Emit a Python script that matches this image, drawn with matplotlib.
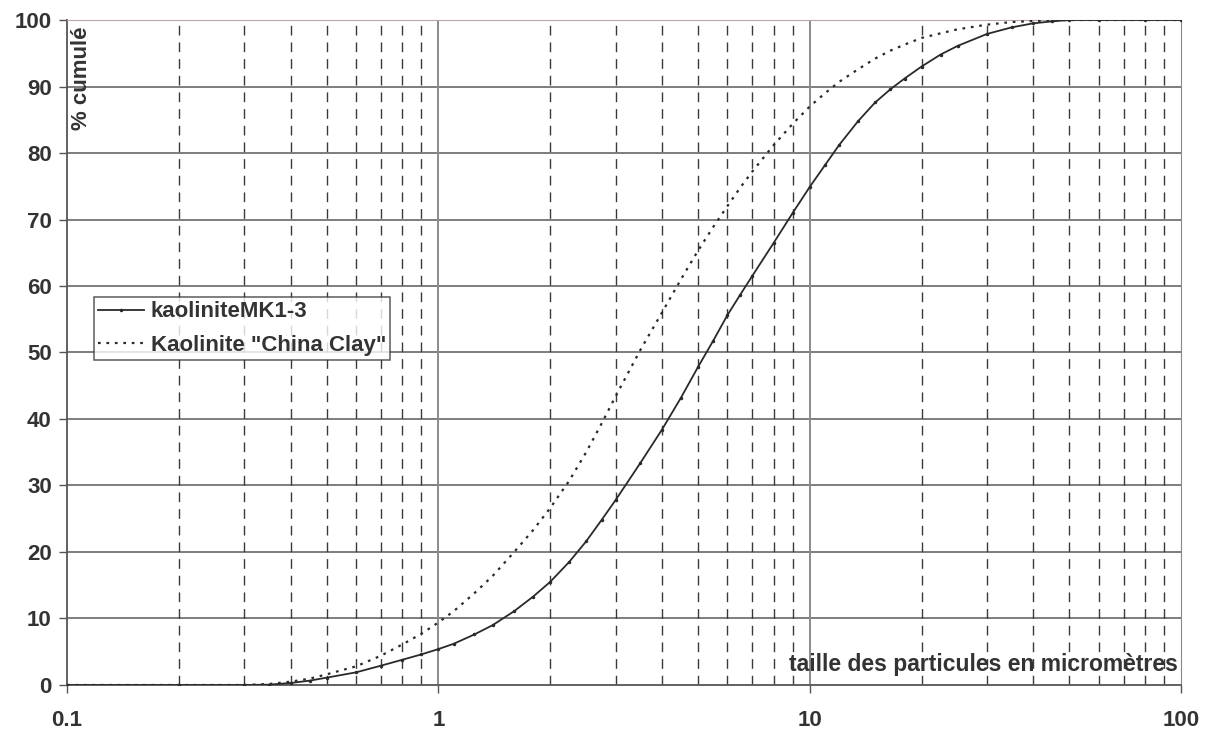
import matplotlib
matplotlib.use("Agg")
import matplotlib.pyplot as plt
from matplotlib.ticker import FixedLocator, NullFormatter

plt.rcParams['font.family'] = ['Liberation Sans', 'DejaVu Sans']
plt.rcParams['font.weight'] = 'bold'

# particle size (micrometres)
taille = [0.1, 0.2, 0.3, 0.35, 0.4, 0.45, 0.5, 0.6, 0.7, 0.8, 0.9, 1, 1.1, 1.25,
          1.4, 1.6, 1.8, 2, 2.25, 2.5, 2.75, 3, 3.5, 4, 4.5, 5, 5.5, 6, 6.5, 7,
          8, 9, 10, 11, 12, 13.5, 15, 16.5, 18, 20, 22.5, 25, 30, 35, 40, 45,
          50, 60, 80, 100]
# cumulative %
mk1_3 = [0, 0, 0, 0.05, 0.3, 0.65, 1.1, 1.9, 2.9, 3.8, 4.6, 5.4, 6.2, 7.6,
         9.0, 11.1, 13.3, 15.5, 18.5, 21.6, 24.8, 27.8, 33.4, 38.4, 43.2, 47.8,
         51.8, 55.6, 58.7, 61.5, 66.5, 71.0, 74.9, 78.2, 81.2, 84.8, 87.6, 89.6,
         91.2, 93.0, 94.8, 96.1, 97.9, 98.9, 99.5, 99.8, 100, 100, 100, 100]
china_clay = [0, 0, 0, 0.15, 0.5, 0.95, 1.6, 2.8, 4.4, 6.1, 7.7, 9.4, 11.1, 13.8,
              16.4, 20.0, 23.3, 26.6, 30.7, 35.0, 39.3, 43.4, 50.4, 56.0, 61.0,
              65.3, 68.9, 72.0, 74.8, 77.2, 81.2, 84.4, 87.0, 89.0, 90.7, 92.6,
              94.2, 95.4, 96.3, 97.3, 98.0, 98.6, 99.3, 99.7, 99.85, 99.95, 100,
              100, 100, 100]

y_ticks = list(range(0, 101, 10))
x_major = [0.1, 1, 10, 100]
x_minor = [m * d for d in (0.1, 1, 10) for m in range(2, 10)]

txt = "#333333"
fig = plt.figure(figsize=(12.1, 7.33), dpi=100)
ax = fig.add_axes([0.0554, 0.0655, 0.9207, 0.9072])
ax.set_xscale("log")
ax.set_xlim(0.1, 100)
ax.set_ylim(0, 100)

# grid
for y in y_ticks[1:]:
    ax.axhline(y, color="#5a5a5a", lw=1.1, zorder=1)
for x in x_minor:
    ax.axvline(x, color="#3a3a3a", lw=1.0, ls=(0, (7, 5)), zorder=1)
for x in x_major[1:3]:
    ax.axvline(x, color="#8c8c8c", lw=1.4, zorder=1)

ax.plot(taille, mk1_3, color="#2a2a2a", lw=1.3, marker="o", markersize=1.5,
        label="kaoliniteMK1-3", zorder=3)
ax.plot(taille, china_clay, color="#2a2a2a", lw=1.6, ls=(0, (1.2, 2.6)),
        label='Kaolinite "China Clay"', zorder=3)

ax.xaxis.set_major_locator(FixedLocator(x_major))
ax.xaxis.set_minor_locator(FixedLocator(x_minor))
ax.xaxis.set_minor_formatter(NullFormatter())
ax.set_xticklabels(["0.1", "1", "10", "100"])
ax.set_yticks(y_ticks)
ax.tick_params(axis="x", which="major", length=6, width=1, color="#555555",
               labelsize=16, labelcolor=txt, pad=12)
ax.tick_params(axis="x", which="minor", length=0)
ax.tick_params(axis="y", length=6, width=1, color="#555555",
               labelsize=16, labelcolor=txt, pad=5)

for s in ("left", "bottom"):
    ax.spines[s].set_color("#555555")
    ax.spines[s].set_linewidth(1.3)
ax.spines["right"].set_color("#888888")
ax.spines["top"].set_color("#b8a8a8")

ax.text(0.004, 0.99, "% cumulé", transform=ax.transAxes, rotation=90,
        ha="left", va="top", fontsize=16, color=txt, fontweight="bold")
ax.text(0.997, 0.014, "taille des particules en micromètres", transform=ax.transAxes,
        ha="right", va="bottom", fontsize=16.5, color=txt, fontweight="bold")

leg = ax.legend(loc="upper left", bbox_to_anchor=(0.0242, 0.5835), fontsize=16,
                frameon=True, fancybox=False, edgecolor="#333333",
                handlelength=2.05, borderpad=0.2, labelspacing=0.55,
                handletextpad=0.3, borderaxespad=0)
leg.get_frame().set_linewidth(1.1)
for t in leg.get_texts():
    t.set_color(txt)
    t.set_fontweight("bold")

plt.savefig("out.png", dpi=100)
